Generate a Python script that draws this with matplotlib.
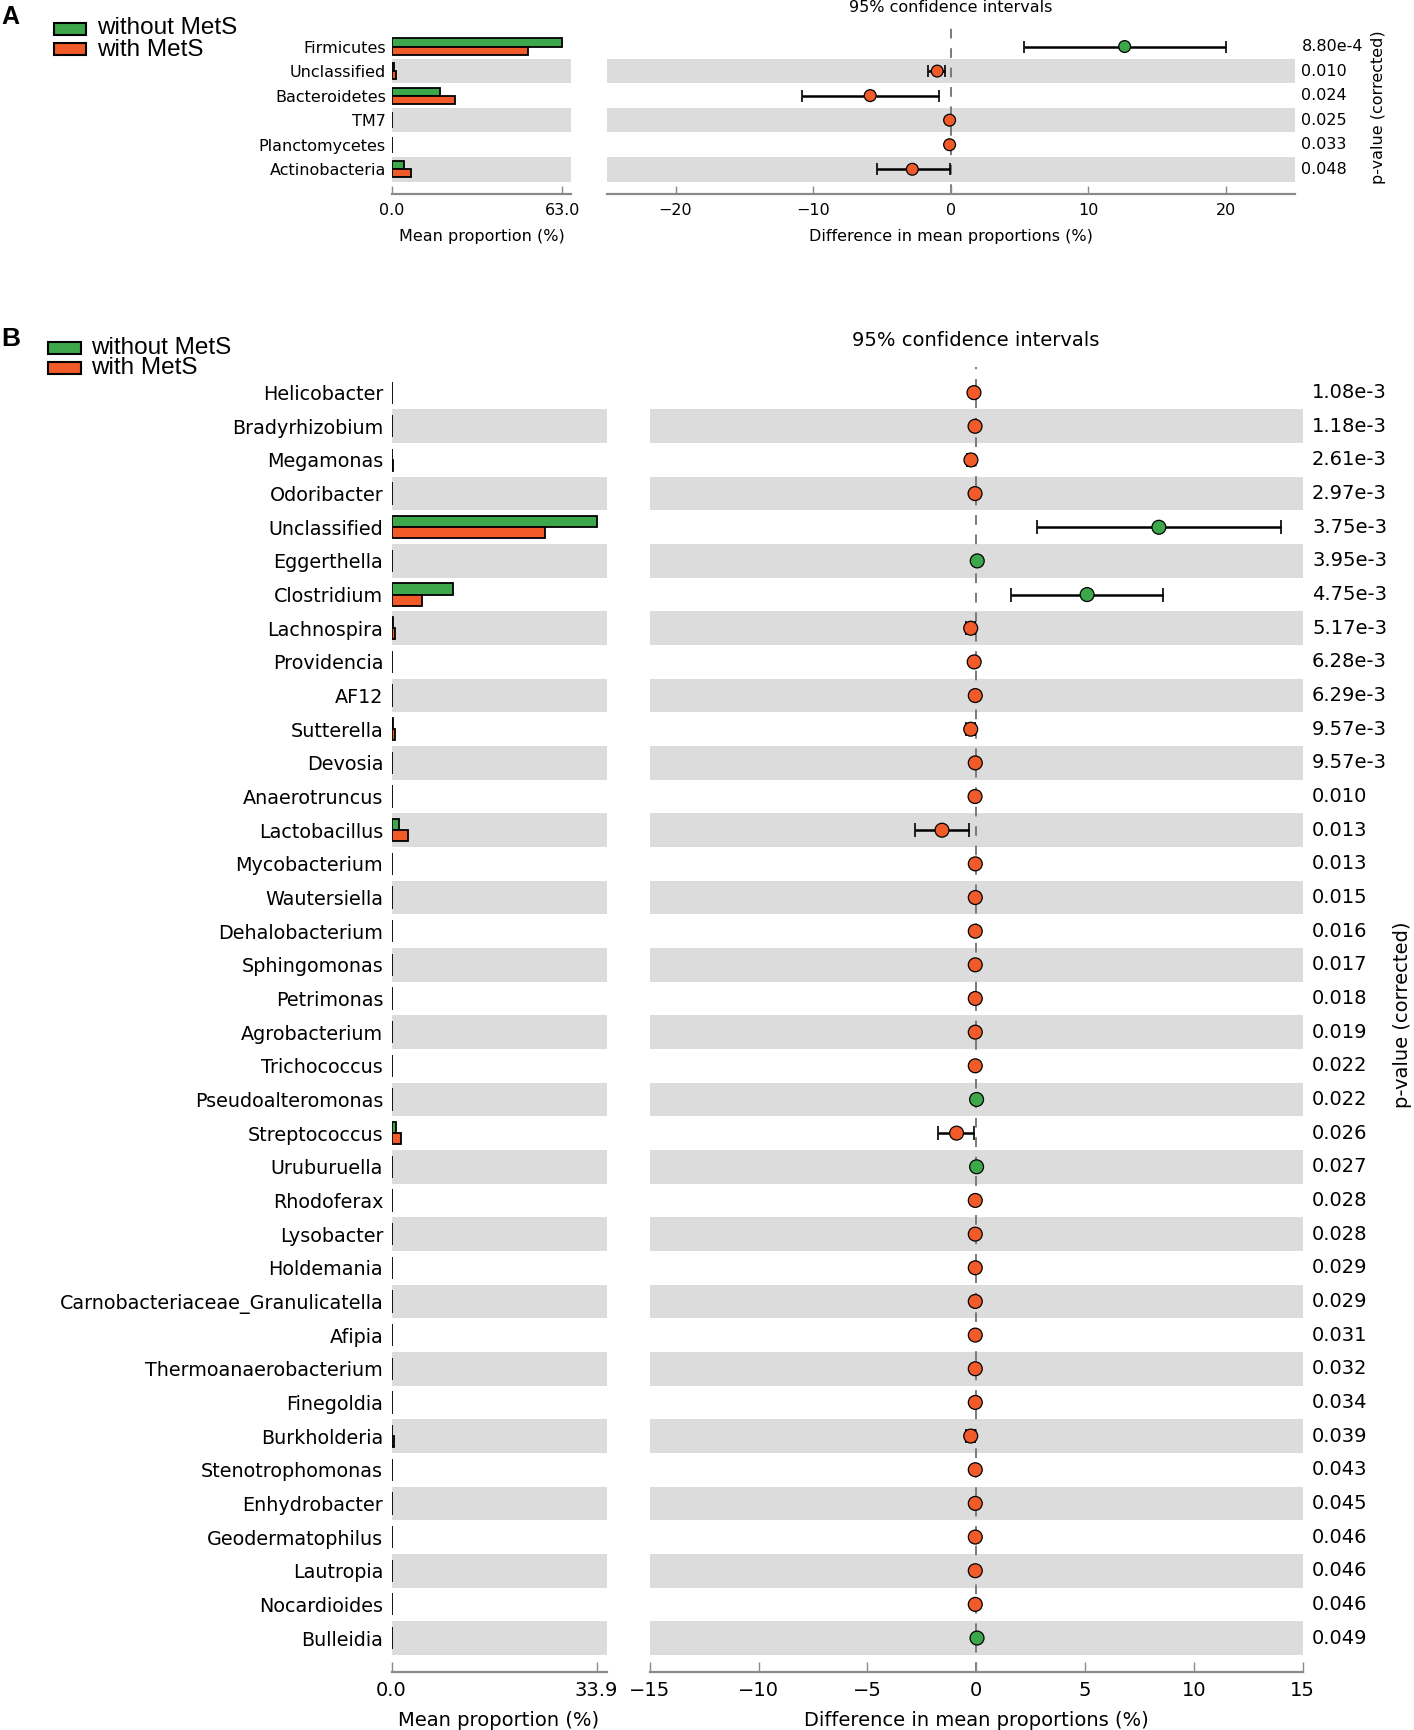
import matplotlib
matplotlib.use('Agg')
import matplotlib.pyplot as plt
from matplotlib.patches import Rectangle
from matplotlib.transforms import blended_transform_factory

W, H = 1414, 1730
DPI = 100

GREEN = '#3ca84b'
ORANGE = '#f15a29'
BAND = '#dcdcdd'
AXIS_GREY = '#8a8a8a'
LEGEND_LABELS = ['without MetS', 'with MetS']

# ---- panel A: phylum level ----
A_TAXA = ['Firmicutes', 'Unclassified', 'Bacteroidetes', 'TM7', 'Planctomycetes', 'Actinobacteria']
A_WITHOUT = [63.0, 0.8, 17.9, 0.05, 0.02, 4.6]
A_WITH = [50.3, 1.5, 23.4, 0.1, 0.08, 7.2]
A_DIFF = [12.64, -0.98, -5.85, -0.08, -0.08, -2.79]
A_CI_LO = [5.36, -1.66, -10.79, -0.15, -0.15, -5.36]
A_CI_HI = [20.0, -0.38, -0.83, -0.02, -0.02, -0.08]
A_PVAL = ['8.80e-4', '0.010', '0.024', '0.025', '0.033', '0.048']

# ---- panel B: genus level ----
B_TAXA = [
    'Helicobacter', 'Bradyrhizobium', 'Megamonas', 'Odoribacter', 'Unclassified',
    'Eggerthella', 'Clostridium', 'Lachnospira', 'Providencia', 'AF12',
    'Sutterella', 'Devosia', 'Anaerotruncus', 'Lactobacillus', 'Mycobacterium',
    'Wautersiella', 'Dehalobacterium', 'Sphingomonas', 'Petrimonas', 'Agrobacterium',
    'Trichococcus', 'Pseudoalteromonas', 'Streptococcus', 'Uruburuella', 'Rhodoferax',
    'Lysobacter', 'Holdemania', 'Carnobacteriaceae_Granulicatella', 'Afipia',
    'Thermoanaerobacterium', 'Finegoldia', 'Burkholderia', 'Stenotrophomonas',
    'Enhydrobacter', 'Geodermatophilus', 'Lautropia', 'Nocardioides', 'Bulleidia',
]
B_WITHOUT = [
    0.02, 0.03, 0.05, 0.05, 33.9,
    0.08, 10.2, 0.3, 0.01, 0.04,
    0.3, 0.02, 0.03, 1.2, 0.01,
    0.01, 0.02, 0.02, 0.01, 0.02,
    0.01, 0.05, 0.7, 0.04, 0.01,
    0.02, 0.03, 0.02, 0.01,
    0.02, 0.01, 0.1, 0.01,
    0.02, 0.01, 0.02, 0.01, 0.05,
]
B_WITH = [
    0.12, 0.08, 0.3, 0.1, 25.4,
    0.03, 5.0, 0.55, 0.1, 0.08,
    0.55, 0.06, 0.08, 2.8, 0.05,
    0.05, 0.06, 0.06, 0.05, 0.06,
    0.05, 0.03, 1.6, 0.02, 0.05,
    0.06, 0.07, 0.06, 0.05,
    0.06, 0.05, 0.35, 0.05,
    0.06, 0.05, 0.06, 0.05, 0.01,
]
B_DIFF = [
    -0.10, -0.05, -0.24, -0.05, 8.40,
    0.05, 5.10, -0.25, -0.09, -0.04,
    -0.25, -0.04, -0.05, -1.57, -0.04,
    -0.04, -0.04, -0.04, -0.04, -0.04,
    -0.04, 0.02, -0.90, 0.02, -0.04,
    -0.04, -0.04, -0.04, -0.04,
    -0.04, -0.04, -0.25, -0.04,
    -0.04, -0.04, -0.04, -0.04, 0.04,
]
B_CI_LO = [
    -0.18, -0.09, -0.40, -0.09, 2.79,
    0.01, 1.60, -0.45, -0.16, -0.07,
    -0.45, -0.07, -0.09, -2.80, -0.07,
    -0.07, -0.07, -0.07, -0.07, -0.07,
    -0.07, 0.005, -1.77, 0.005, -0.07,
    -0.07, -0.07, -0.07, -0.07,
    -0.07, -0.07, -0.45, -0.07,
    -0.07, -0.07, -0.07, -0.07, 0.005,
]
B_CI_HI = [
    -0.02, -0.01, -0.08, -0.01, 14.0,
    0.09, 8.60, -0.05, -0.02, -0.01,
    -0.05, -0.01, -0.01, -0.35, -0.01,
    -0.01, -0.01, -0.01, -0.01, -0.01,
    -0.01, 0.04, -0.10, 0.04, -0.01,
    -0.01, -0.01, -0.01, -0.01,
    -0.01, -0.01, -0.05, -0.01,
    -0.01, -0.01, -0.01, -0.01, 0.08,
]
B_PVAL = [
    '1.08e-3', '1.18e-3', '2.61e-3', '2.97e-3', '3.75e-3',
    '3.95e-3', '4.75e-3', '5.17e-3', '6.28e-3', '6.29e-3',
    '9.57e-3', '9.57e-3', '0.010', '0.013', '0.013',
    '0.015', '0.016', '0.017', '0.018', '0.019',
    '0.022', '0.022', '0.026', '0.027', '0.028',
    '0.028', '0.029', '0.029', '0.031',
    '0.032', '0.034', '0.039', '0.043',
    '0.045', '0.046', '0.046', '0.046', '0.049',
]

plt.rcParams['font.family'] = 'DejaVu Sans'
fig = plt.figure(figsize=(W / DPI, H / DPI), dpi=DPI)


def px_axes(left, top, right, bottom):
    """Axes placed by pixel box (top-left origin)."""
    return fig.add_axes([left / W, 1 - bottom / H, (right - left) / W, (bottom - top) / H])


def style_bottom(ax, fs, tick_len, tick_pad):
    for side in ('top', 'left', 'right'):
        ax.spines[side].set_visible(False)
    ax.spines['bottom'].set_color(AXIS_GREY)
    ax.spines['bottom'].set_linewidth(1.6)
    ax.tick_params(axis='x', direction='in', length=tick_len, width=1.0,
                   color=AXIS_GREY, labelsize=fs, pad=tick_pad)


def draw_panel(cfg):
    taxa = cfg['taxa']
    rows = list(range(len(taxa)))
    fs = cfg['fs']

    ax_bar = px_axes(*cfg['bar_box'])
    ax_dif = px_axes(*cfg['diff_box'])

    for ax in (ax_bar, ax_dif):
        ax.set_ylim(*cfg['ylim'])
        for i in rows:
            if i % 2 == 1:
                ax.axhspan(i - 0.5, i + 0.5, color=BAND, lw=0, zorder=0)
        style_bottom(ax, fs, cfg['tick_len'], cfg['tick_pad'])

    # mean proportion bars
    h = 0.33
    y_top = [r - h / 2 for r in rows]
    y_bot = [r + h / 2 for r in rows]
    ax_bar.barh(y_top, cfg['without'], height=h, color=GREEN, edgecolor='black', lw=1.3, zorder=2)
    ax_bar.barh(y_bot, cfg['with'], height=h, color=ORANGE, edgecolor='black', lw=1.3, zorder=2)
    ax_bar.set_xlim(0, cfg['bar_xmax'])
    ax_bar.set_xticks([0, cfg['bar_tick']])
    ax_bar.set_xticklabels(['0.0', f"{cfg['bar_tick']:.1f}"])
    ax_bar.set_yticks(rows)
    ax_bar.set_yticklabels(taxa, fontsize=cfg['label_fs'])
    ax_bar.tick_params(axis='y', length=0, pad=cfg['ylab_pad'])

    # difference with 95% CI
    diff = cfg['diff']
    err_lo = [d - lo for d, lo in zip(diff, cfg['lo'])]
    err_hi = [hi - d for d, hi in zip(diff, cfg['hi'])]
    ax_dif.axvline(0, color='#7a7a7a', ls=(0, (5, 5)), lw=1.4, zorder=1)
    ax_dif.errorbar(diff, rows, xerr=[err_lo, err_hi], fmt='none', ecolor='black',
                    elinewidth=1.8, capsize=cfg['capsize'], capthick=1.2, zorder=2)
    colors = [GREEN if d > 0 else ORANGE for d in diff]
    ax_dif.scatter(diff, rows, s=cfg['ms'] ** 2, c=colors, edgecolors='black',
                   linewidths=0.9, zorder=3)
    ax_dif.set_xlim(*cfg['diff_lim'])
    ax_dif.set_xticks(cfg['diff_ticks'])
    ax_dif.set_yticks([])

    # corrected p-values
    trans = blended_transform_factory(fig.transFigure, ax_dif.transData)
    for r, p in zip(rows, cfg['pvals']):
        ax_dif.text(cfg['pval_x'] / W, r, p, transform=trans, ha='left', va='center',
                    fontsize=fs, clip_on=False)

    # axis titles / labels
    bl, bt, br, bb = cfg['bar_box']
    dl, dt, dr, db = cfg['diff_box']
    fig.text((bl + br) / 2 / W, 1 - cfg['xlabel_y'] / H, 'Mean proportion (%)',
             ha='center', va='center', fontsize=fs)
    fig.text((dl + dr) / 2 / W, 1 - cfg['xlabel_y'] / H, 'Difference in mean proportions (%)',
             ha='center', va='center', fontsize=fs)
    fig.text((dl + dr) / 2 / W, 1 - cfg['title_y'] / H, '95% confidence intervals',
             ha='center', va='center', fontsize=fs)
    fig.text(cfg['plabel_x'] / W, 1 - cfg['plabel_y'] / H, 'p-value (corrected)',
             rotation=90, ha='center', va='center', fontsize=fs)

    # panel letter + legend
    fig.text(cfg['letter_xy'][0] / W, 1 - cfg['letter_xy'][1] / H, cfg['letter'],
             ha='left', va='center', fontsize=cfg['letter_fs'], fontweight='bold',
             family='Liberation Sans')
    lx0, lx1 = cfg['legend_x']
    for yc, yb, col, lab in zip(cfg['legend_y'], cfg['legend_base'], (GREEN, ORANGE), LEGEND_LABELS):
        hh = 12
        fig.patches.append(Rectangle((lx0 / W, 1 - (yc + hh / 2) / H), (lx1 - lx0) / W, hh / H,
                                     transform=fig.transFigure, facecolor=col,
                                     edgecolor='black', lw=1.5))
        fig.text(cfg['legend_text_x'] / W, 1 - yb / H, lab, ha='left', va='baseline',
                 fontsize=cfg['legend_fs'], family='Liberation Sans')


panel_a = dict(
    taxa=A_TAXA, without=A_WITHOUT, with_=None, diff=A_DIFF, lo=A_CI_LO, hi=A_CI_HI, pvals=A_PVAL,
    bar_box=(391.5, 22, 571.4, 194.3), diff_box=(606.7, 22, 1294.7, 194.3),
    ylim=(6.02, -1.0), bar_xmax=66.3, bar_tick=63.0,
    diff_lim=(-25, 25), diff_ticks=[-20, -10, 0, 10, 20],
    fs=11.5, label_fs=11.5, tick_len=6, tick_pad=6.4, ylab_pad=4, capsize=4, ms=8.5,
    pval_x=1301.5, xlabel_y=237, title_y=8,
    plabel_x=1379, plabel_y=107,
    letter='A', letter_xy=(1, 17), letter_fs=18,
    legend_x=(54, 86), legend_y=(29, 49), legend_base=(34.5, 55.5),
    legend_text_x=97, legend_fs=17.5,
)
panel_a['with'] = A_WITH

panel_b = dict(
    taxa=B_TAXA, without=B_WITHOUT, diff=B_DIFF, lo=B_CI_LO, hi=B_CI_HI, pvals=B_PVAL,
    bar_box=(391.5, 366.7, 606.5, 1671.7), diff_box=(649.8, 366.7, 1302.5, 1671.7),
    ylim=(38.0, -0.77), bar_xmax=35.55, bar_tick=33.9,
    diff_lim=(-15, 15), diff_ticks=[-15, -10, -5, 0, 5, 10, 15],
    fs=14, label_fs=13.8, tick_len=7, tick_pad=7, ylab_pad=6, capsize=5, ms=10,
    pval_x=1312, xlabel_y=1720, title_y=341,
    plabel_x=1403, plabel_y=1015,
    letter='B', letter_xy=(1, 339), letter_fs=19,
    legend_x=(48, 81), legend_y=(348, 368), legend_base=(353.5, 374),
    legend_text_x=91, legend_fs=17.5,
)
panel_b['with'] = B_WITH

draw_panel(panel_a)
draw_panel(panel_b)

fig.savefig('out.png', dpi=DPI, facecolor='white')
